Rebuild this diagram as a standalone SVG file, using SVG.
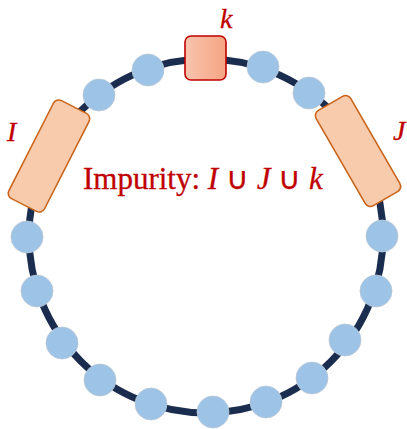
<svg xmlns="http://www.w3.org/2000/svg" width="407" height="429" viewBox="0 0 407 429">
<defs>
<linearGradient id="kg" x1="0" y1="0" x2="1" y2="0">
<stop offset="0" stop-color="#F8C4AE"/>
<stop offset="1" stop-color="#F4A583"/>
</linearGradient>
<style>
.bead{fill:#9DC3E6;stroke:#B7C7D6;stroke-width:0.8}
.blk{fill:#F8CBAD;stroke:#C8651B;stroke-width:1.6}
.lbl{font-family:"Liberation Serif",serif;fill:#C00000;stroke:#C00000;stroke-width:0.3}
.it{font-style:italic}
</style>
</defs>
<rect width="407" height="429" fill="#FFFFFF"/>
<g id="connectors">
<circle cx="206" cy="236" r="177" fill="none" stroke="#1B2D4F" stroke-width="7"/>
</g>
<g id="beads">
<circle class="bead" cx="148" cy="70" r="16"/>
<circle class="bead" cx="99" cy="95" r="16"/>
<circle class="bead" cx="263" cy="67" r="16"/>
<circle class="bead" cx="309" cy="93" r="16"/>
<circle class="bead" cx="27" cy="237" r="16"/>
<circle class="bead" cx="37" cy="291" r="16"/>
<circle class="bead" cx="62" cy="343" r="16"/>
<circle class="bead" cx="100" cy="380" r="16"/>
<circle class="bead" cx="151" cy="404" r="16"/>
<circle class="bead" cx="213" cy="412" r="16"/>
<circle class="bead" cx="266" cy="402" r="16"/>
<circle class="bead" cx="312" cy="378" r="16"/>
<circle class="bead" cx="345" cy="340" r="16"/>
<circle class="bead" cx="376" cy="291" r="16"/>
<circle class="bead" cx="382" cy="236" r="16"/>
</g>
<g id="I">
<rect class="blk" x="-20" y="-55" width="40" height="110" rx="6" transform="translate(49 156) rotate(27)"/>
<text class="lbl it" x="7" y="141" font-size="28">I</text>
</g>
<g id="J">
<rect class="blk" x="-20" y="-55" width="40" height="110" rx="6" transform="translate(358 151) rotate(-30)"/>
<text class="lbl it" x="393" y="140" font-size="28">J</text>
</g>
<g id="k">
<rect x="185" y="36" width="41" height="44" rx="6" fill="url(#kg)" stroke="#C00000" stroke-width="1.6"/>
<text class="lbl it" x="220" y="28" font-size="28">k</text>
</g>
<g id="impurity">
<text class="lbl" x="83" y="189" font-size="31">Impurity: <tspan class="it">I</tspan> ∪ <tspan class="it">J</tspan> ∪ <tspan class="it">k</tspan></text>
</g>
</svg>
